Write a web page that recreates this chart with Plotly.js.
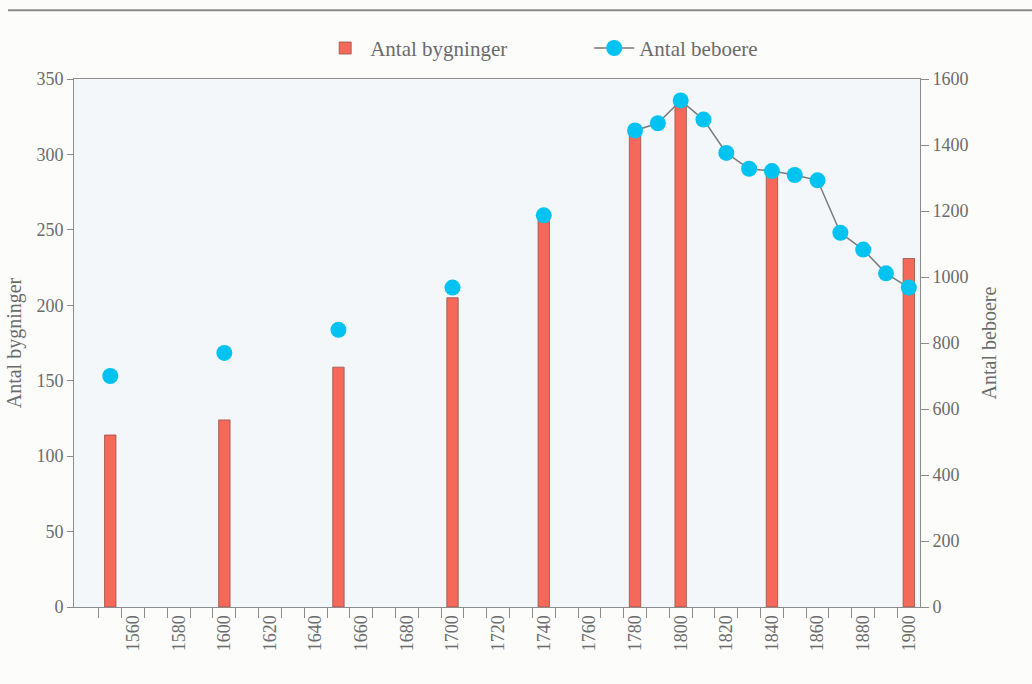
<!DOCTYPE html>
<html>
<head>
<meta charset="utf-8">
<script src="https://cdn.plot.ly/plotly-3.0.1.min.js"></script>
<style>
  html, body { margin: 0; padding: 0; background: #fcfcfb; }
  #chart { width: 1032px; height: 684px; }
</style>
</head>
<body>
<div id="chart"></div>
<script>
// Data
const buildingYears = [1550, 1600, 1650, 1700, 1740, 1780, 1800, 1840, 1900];
const buildingCounts = [114, 124, 159, 205, 262, 313, 334, 286, 231];

// Residents: early census points (not joined by a line)
const residentYearsEarly = [1550, 1600, 1650, 1700, 1740];
const residentsEarly = [700, 770, 840, 968, 1187];

// Residents: later series, joined by a line
const residentYearsLate = [1780, 1790, 1800, 1810, 1820, 1830, 1840, 1850, 1860, 1870, 1880, 1890, 1900];
const residentsLate = [1444, 1466, 1535, 1477, 1376, 1328, 1321, 1309, 1293, 1134, 1083, 1011, 968];

const xLabelYears = [1560, 1580, 1600, 1620, 1640, 1660, 1680, 1700, 1720, 1740, 1760, 1780, 1800, 1820, 1840, 1860, 1880, 1900];
const xTickMarkYears = [1545, 1555, 1565, 1575, 1585, 1595, 1605, 1615, 1625, 1635, 1645, 1655, 1665, 1675, 1685, 1695,
  1705, 1715, 1725, 1735, 1745, 1755, 1765, 1775, 1785, 1795, 1805, 1815, 1825, 1835, 1845, 1855, 1865, 1875, 1885, 1895];
const leftTicks = [0, 50, 100, 150, 200, 250, 300, 350];
const rightTicks = [0, 200, 400, 600, 800, 1000, 1200, 1400, 1600];

const barName = 'Antal bygninger';
const lineName = 'Antal beboere';

const textGray = '#6b6b6b';
const axisGray = '#8c8c8c';
const fontFam = '"Liberation Serif", "DejaVu Serif", serif';
const cyan = '#00c3f2';

const traces = [
  {
    type: 'bar', name: barName,
    x: buildingYears, y: buildingCounts,
    width: 5.0,
    marker: { color: '#f4695a', line: { color: '#9a5048', width: 0.8 } },
    xaxis: 'x', yaxis: 'y'
  },
  {
    type: 'scatter', mode: 'markers', name: lineName, showlegend: false,
    x: residentYearsEarly, y: residentsEarly,
    marker: { color: cyan, size: 16 },
    xaxis: 'x', yaxis: 'y2'
  },
  {
    type: 'scatter', mode: 'lines+markers', name: lineName,
    x: residentYearsLate, y: residentsLate,
    line: { color: '#7a7a7a', width: 1.5 },
    marker: { color: cyan, size: 16 },
    xaxis: 'x', yaxis: 'y2'
  }
];

const xRange = [1534.1, 1904.9];

const layout = {
  width: 1032, height: 684,
  paper_bgcolor: '#fcfcfb',
  plot_bgcolor: '#f4f7fa',
  margin: { l: 74, r: 112, t: 79, b: 77 },
  font: { family: fontFam, color: textGray, size: 17 },
  showlegend: true,
  legend: {
    orientation: 'h', x: 0.291, xanchor: 'left', y: 1.058, yanchor: 'middle',
    font: { family: fontFam, size: 21, color: textGray },
    bgcolor: 'rgba(0,0,0,0)', itemwidth: 40, entrywidth: 214, traceorder: 'normal'
  },
  xaxis: {
    range: xRange,
    tickmode: 'array', tickvals: xLabelYears, ticktext: xLabelYears.map(String),
    ticks: '', tickangle: -90,
    minor: { tickmode: 'array', tickvals: xTickMarkYears, ticks: 'outside', ticklen: 10, tickcolor: axisGray, tickwidth: 1, showgrid: false },
    showline: true, linecolor: axisGray, linewidth: 1, mirror: true,
    showgrid: false, zeroline: false,
    tickfont: { family: fontFam, size: 18, color: textGray }
  },
  yaxis: {
    range: [0, 350],
    tickmode: 'array', tickvals: leftTicks,
    ticks: 'outside', ticklen: 6, tickcolor: axisGray,
    showline: true, linecolor: axisGray, linewidth: 1,
    showgrid: false, zeroline: false,
    title: { text: 'Antal bygninger', font: { family: fontFam, size: 20, color: textGray }, standoff: 9 },
    tickfont: { family: fontFam, size: 18, color: textGray }
  },
  yaxis2: {
    range: [0, 1600], overlaying: 'y', side: 'right', anchor: 'x',
    tickmode: 'array', tickvals: rightTicks,
    ticks: 'outside', ticklen: 8, tickcolor: axisGray,
    showline: true, linecolor: axisGray, linewidth: 1,
    showgrid: false, zeroline: false,
    title: { text: 'Antal beboere', font: { family: fontFam, size: 20, color: textGray }, standoff: 14 },
    tickfont: { family: fontFam, size: 18, color: textGray }
  },
  shapes: [
    { type: 'line', xref: 'paper', yref: 'paper',
      x0: -0.078, x1: 1.133, y0: 1.13, y1: 1.13,
      line: { color: '#8a8a8a', width: 2 } }
  ]
};

Plotly.newPlot('chart', traces, layout, { displayModeBar: false, staticPlot: true });
</script>
</body>
</html>
